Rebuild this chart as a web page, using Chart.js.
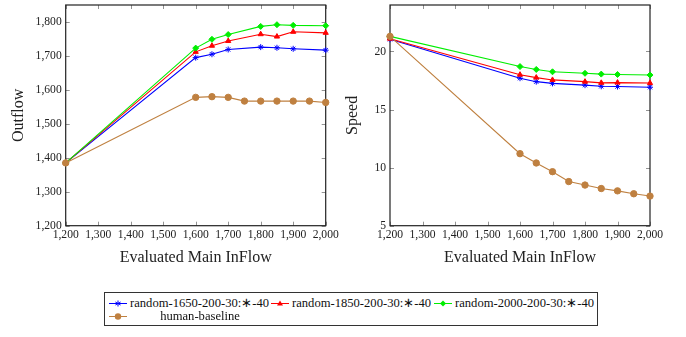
<!DOCTYPE html>
<html lang="en">
<head>
  <meta charset="UTF-8">
  <title>Outflow and Speed</title>
  <script src="https://cdn.jsdelivr.net/npm/chart.js"></script>
  <style>
    body { margin: 0; background: #fff; font-family: "Liberation Serif", serif; }
    #wrap { position: relative; width: 686px; height: 337px; overflow: hidden; }
    #c1 { position: absolute; left: 0; top: 0; }
    #c2 { position: absolute; left: 340px; top: 0; }
    #legend { position: absolute; left: 104px; top: 292px; width: 492px; height: 32px; border: 1px solid #333; font-size: 12.6px; color: #111; }
    .row { position: absolute; left: 0; height: 14px; line-height: 14px; white-space: nowrap; }
    .item { position: absolute; top: 0; }
    .item canvas { position: absolute; top: 0; left: 0; }
    .item span { position: absolute; top: 0; }
  </style>
</head>
<body>
<div id="wrap">
  <canvas id="c1" width="340" height="270"></canvas>
  <canvas id="c2" width="346" height="270"></canvas>
  <div id="legend"></div>
</div>
<script>
  // x positions evaluated
  const xRandom = [1200, 1600, 1650, 1700, 1800, 1850, 1900, 2000];
  const xHuman = [1200, 1600, 1650, 1700, 1750, 1800, 1850, 1900, 1950, 2000];

  const seriesNames = ['random-1650-200-30:\u2217-40', 'random-1850-200-30:\u2217-40', 'random-2000-200-30:\u2217-40', 'human-baseline'];

  // outflow (left chart)
  const outBlue = [1385, 1695, 1705, 1719, 1726, 1724, 1721, 1717];
  const outRed = [1385, 1712, 1730, 1744, 1764, 1757, 1771, 1768];
  const outGreen = [1385, 1723, 1749, 1763, 1787, 1792, 1790, 1789];
  const outHuman = [1385, 1578, 1580, 1578, 1567, 1567, 1567, 1567, 1567, 1563];

  // speed (right chart)
  const spdBlue = [21.05, 17.7, 17.4, 17.25, 17.1, 17.0, 16.98, 16.92];
  const spdRed = [21.1, 18.0, 17.75, 17.55, 17.4, 17.3, 17.32, 17.28];
  const spdGreen = [21.3, 18.7, 18.45, 18.25, 18.12, 18.05, 18.02, 17.97];
  const spdHuman = [21.3, 11.2, 10.4, 9.65, 8.8, 8.5, 8.2, 8.0, 7.75, 7.55];

  const xTicks = [1200, 1300, 1400, 1500, 1600, 1700, 1800, 1900, 2000];
  const outTicks = [1200, 1300, 1400, 1500, 1600, 1700, 1800];
  const spdTicks = [5, 10, 15, 20];

  const colors = ['#0000ff', '#ff0000', '#00ee00', '#bf8040'];
  const styles = ['star', 'triangle', 'rectRot', 'circle'];
  const radii = [3, 3, 3, 3.2];

  Chart.defaults.font.family = '"Liberation Serif", serif';
  Chart.defaults.color = '#222';

  function pairs(xs, ys) {
    return xs.map((x, i) => ({ x: x, y: ys[i] }));
  }

  function makeSets(lists) {
    return lists.map((ys, i) => ({
      label: seriesNames[i],
      data: pairs(i === 3 ? xHuman : xRandom, ys),
      borderColor: colors[i],
      backgroundColor: colors[i],
      borderWidth: 1.1,
      pointStyle: styles[i],
      pointRadius: radii[i],
      pointBorderWidth: 1,
      tension: 0,
      clip: false,
      order: 3 - i
    }));
  }

  // box round the plot area with inward ticks on every side
  const frame = {
    id: 'frame',
    beforeDatasetsDraw(chart) {
      const { ctx, chartArea: a, scales } = chart;
      ctx.save();
      ctx.strokeStyle = '#777';
      ctx.lineWidth = 0.8;
      ctx.beginPath();
      scales.x.ticks.forEach(t => {
        const px = Math.round(scales.x.getPixelForValue(t.value)) + 0.5;
        ctx.moveTo(px, a.bottom); ctx.lineTo(px, a.bottom - 4);
        ctx.moveTo(px, a.top); ctx.lineTo(px, a.top + 4);
      });
      scales.y.ticks.forEach(t => {
        const py = Math.round(scales.y.getPixelForValue(t.value)) + 0.5;
        ctx.moveTo(a.left, py); ctx.lineTo(a.left + 4, py);
        ctx.moveTo(a.right, py); ctx.lineTo(a.right - 4, py);
      });
      ctx.stroke();
      ctx.strokeStyle = '#222';
      ctx.lineWidth = 1.2;
      ctx.strokeRect(a.left, a.top, a.right - a.left, a.bottom - a.top);
      ctx.restore();
    }
  };

  function makeChart(id, lists, yMin, yMax, yTicks, yTitle, yWidth, rightPad, yTitlePad) {
    return new Chart(document.getElementById(id), {
      type: 'line',
      data: { datasets: makeSets(lists) },
      plugins: [frame],
      options: {
        responsive: false,
        animation: false,
        layout: { padding: { top: 2, right: rightPad, left: 0, bottom: 0 } },
        plugins: { legend: { display: false }, tooltip: { enabled: false } },
        scales: {
          x: {
            type: 'linear', min: 1200, max: 2000,
            afterBuildTicks: s => { s.ticks = xTicks.map(v => ({ value: v })); },
            afterFit: s => { s.height = 44.3; s.paddingLeft = 0; s.paddingRight = 0; },
            grid: { display: false, drawTicks: false },
            border: { display: false },
            ticks: {
              autoSkip: false, maxRotation: 0, padding: 2,
              font: { size: 11.6 },
              callback: v => v.toLocaleString('en-US')
            },
            title: { display: true, text: 'Evaluated Main InFlow', font: { size: 16 }, padding: { top: 0, bottom: 2.6 } }
          },
          y: {
            type: 'linear', min: yMin, max: yMax,
            afterBuildTicks: s => { s.ticks = yTicks.map(v => ({ value: v })); },
            afterFit: s => { s.width = yWidth; s.paddingTop = 0; s.paddingBottom = 0; },
            grid: { display: false, drawTicks: false },
            border: { display: false },
            ticks: {
              padding: 4,
              font: { size: 11.6 },
              callback: v => v.toLocaleString('en-US')
            },
            title: { display: true, text: yTitle, font: { size: 16 }, padding: { top: yTitlePad, bottom: 0 } }
          }
        }
      }
    });
  }

  makeChart('c1', [outBlue, outRed, outGreen, outHuman], 1200, 1850, outTicks, 'Outflow', 65.7, 14.3, 9);
  makeChart('c2', [spdBlue, spdRed, spdGreen, spdHuman], 5, 24, spdTicks, 'Speed', 50, 36, 3);

  // legend box, pgfplots style
  const legendPlaces = [
    { row: 0, left: 3 }, { row: 0, left: 165 }, { row: 0, left: 328 }, { row: 1, left: 3 }
  ];
  const legend = document.getElementById('legend');
  const rows = [document.createElement('div'), document.createElement('div')];
  rows[0].className = 'row'; rows[0].style.top = '3px'; rows[0].style.width = '492px';
  rows[1].className = 'row'; rows[1].style.top = '16px'; rows[1].style.width = '492px';
  legend.appendChild(rows[0]); legend.appendChild(rows[1]);

  function drawIcon(cv, i) {
    const c = cv.getContext('2d');
    const y = 7.5;
    c.strokeStyle = colors[i];
    c.fillStyle = colors[i];
    c.lineWidth = 1;
    c.beginPath(); c.moveTo(1, y); c.lineTo(19, y); c.stroke();
    const r = radii[i], x = 10;
    c.beginPath();
    if (styles[i] === 'circle') {
      c.arc(x, y, r, 0, Math.PI * 2); c.fill();
    } else if (styles[i] === 'triangle') {
      c.moveTo(x, y - r); c.lineTo(x + r, y + r * 0.7); c.lineTo(x - r, y + r * 0.7); c.closePath(); c.fill();
    } else if (styles[i] === 'rectRot') {
      c.moveTo(x, y - r); c.lineTo(x + r, y); c.lineTo(x, y + r); c.lineTo(x - r, y); c.closePath(); c.fill();
    } else {
      for (let k = 0; k < 3; k++) {
        const ang = k * Math.PI / 3 + Math.PI / 2;
        c.moveTo(x + Math.cos(ang) * r, y - Math.sin(ang) * r);
        c.lineTo(x - Math.cos(ang) * r, y + Math.sin(ang) * r);
      }
      c.stroke();
    }
  }

  seriesNames.forEach((name, i) => {
    const p = legendPlaces[i];
    const item = document.createElement('div');
    item.className = 'item';
    item.style.left = p.left + 'px';
    item.style.width = '162px';
    item.style.height = '14px';
    const cv = document.createElement('canvas');
    cv.width = 20; cv.height = 14;
    drawIcon(cv, i);
    const sp = document.createElement('span');
    sp.textContent = name;
    sp.style.left = '22px';
    if (i === 3) { sp.style.width = '140px'; sp.style.textAlign = 'center'; }
    item.appendChild(cv); item.appendChild(sp);
    rows[p.row].appendChild(item);
  });
</script>
</body>
</html>
